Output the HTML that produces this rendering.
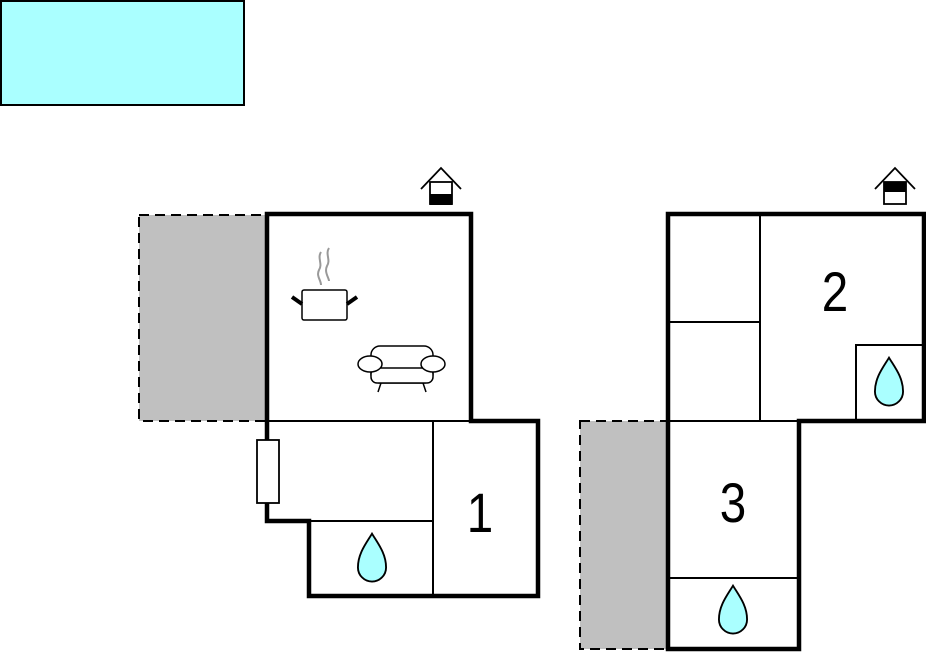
<!DOCTYPE html>
<html><head><meta charset="utf-8"><style>html,body{margin:0;padding:0;background:#fff;}svg{display:block}</style></head>
<body>
<svg width="926" height="652" viewBox="0 0 926 652" xmlns="http://www.w3.org/2000/svg">
<defs>
<symbol id="drop" viewBox="-16 -28 32 56" overflow="visible">
<path d="M0,-27 C-6,-17 -15,-6 -15,9 A15,15 0 0 0 15,9 C15,-6 6,-17 0,-27 Z" fill="#aaffff" stroke="#000" stroke-width="2"/>
</symbol>
</defs>
<rect x="1" y="1" width="243" height="104" fill="#aaffff" stroke="#000" stroke-width="2"/>

<rect x="139" y="215" width="128" height="206" fill="#c0c0c0" stroke="#000" stroke-width="2" stroke-dasharray="10,6"/>
<rect x="580" y="421" width="88" height="228" fill="#c0c0c0" stroke="#000" stroke-width="2" stroke-dasharray="10,6"/>

<rect x="267" y="214" width="204" height="207" fill="#fff"/>
<rect x="267" y="421" width="272" height="100" fill="#fff"/>
<rect x="309" y="421" width="230" height="176" fill="#fff"/>
<g stroke="#000" stroke-width="2" fill="none">
<line x1="267" y1="421" x2="471" y2="421"/>
<line x1="433" y1="421" x2="433" y2="597"/>
<line x1="309" y1="521" x2="433" y2="521"/>
</g>
<path d="M267,214 H471 V421 H538 V596 H309 V521 H267 Z" fill="none" stroke="#000" stroke-width="4.5" stroke-linejoin="miter"/>
<rect x="257" y="440" width="22" height="63" fill="#fff" stroke="#000" stroke-width="1.8"/>
<text transform="translate(480,532) scale(0.85,1)" font-family="Liberation Sans, sans-serif" font-size="56" text-anchor="middle">1</text>
<use href="#drop" x="357" y="532" width="30" height="54"/>

<g stroke="#999" stroke-width="2" fill="none">
<path d="M321,252 C317,258 323,264 319,270 C316,276 321,280 321,285"/>
<path d="M329,248 C325,254 331,260 327,266 C324,272 329,278 329,281"/>
</g>
<rect x="302" y="290" width="45" height="30" rx="2" fill="#fff" stroke="#000" stroke-width="1.5"/>
<line x1="292" y1="297" x2="302" y2="304" stroke="#000" stroke-width="4"/>
<line x1="347" y1="304" x2="357" y2="297" stroke="#000" stroke-width="4"/>

<g stroke="#000" stroke-width="1.5" fill="#fff">
<line x1="381" y1="383" x2="378" y2="392"/>
<line x1="423" y1="383" x2="426" y2="392"/>
<rect x="371" y="346" width="62" height="37" rx="9"/>
<rect x="371" y="368" width="62" height="15" rx="6"/>
<ellipse cx="370" cy="364" rx="12" ry="8"/>
<ellipse cx="433" cy="364" rx="12" ry="8"/>
</g>

<g stroke="#000" stroke-width="1.8" fill="none">
<polyline points="421,189 441,168 461,189"/>
<rect x="430" y="182" width="22" height="22" fill="#fff"/>
</g>
<rect x="430" y="194" width="22" height="11" fill="#000"/>

<rect x="668" y="214" width="256" height="207" fill="#fff"/>
<rect x="668" y="421" width="132" height="228" fill="#fff"/>
<g stroke="#000" stroke-width="2" fill="none">
<line x1="760" y1="214" x2="760" y2="421"/>
<line x1="668" y1="322" x2="760" y2="322"/>
<line x1="668" y1="421" x2="800" y2="421"/>
<path d="M924,345 H856 V421"/>
<line x1="668" y1="578" x2="800" y2="578"/>
</g>
<path d="M668,214 H924 V421 H799 V649 H668 Z" fill="none" stroke="#000" stroke-width="4.5"/>
<text transform="translate(835,311) scale(0.85,1)" font-family="Liberation Sans, sans-serif" font-size="56" text-anchor="middle">2</text>
<text transform="translate(733,522) scale(0.85,1)" font-family="Liberation Sans, sans-serif" font-size="56" text-anchor="middle">3</text>
<use href="#drop" x="874" y="356" width="30" height="54"/>
<use href="#drop" x="718" y="584" width="30" height="54"/>

<g stroke="#000" stroke-width="1.8" fill="none">
<polyline points="875,189 895,168 915,189"/>
<rect x="884" y="182" width="22" height="22" fill="#fff"/>
</g>
<rect x="884" y="182" width="22" height="10" fill="#000"/>
</svg>
</body></html>
